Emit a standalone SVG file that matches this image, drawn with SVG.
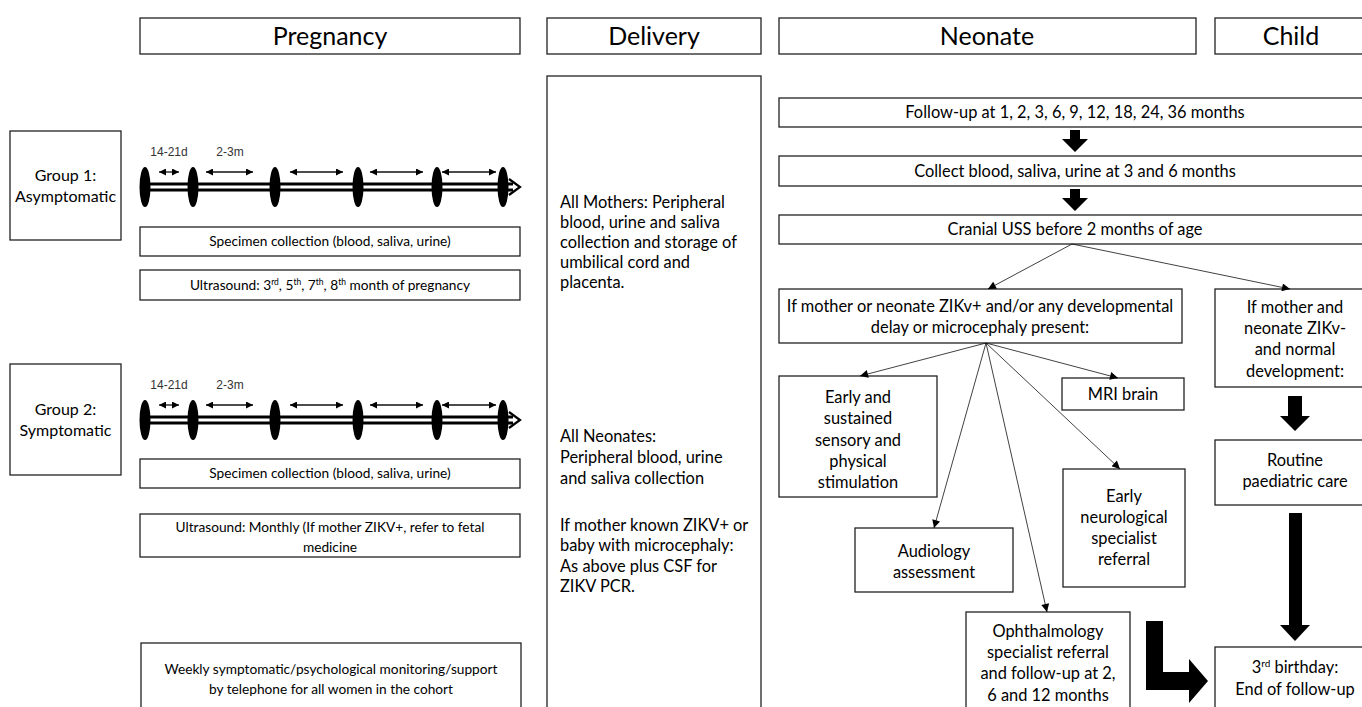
<svg xmlns="http://www.w3.org/2000/svg" width="1362" height="707" viewBox="0 0 1362 707">
<style>
.box{fill:#fff;stroke:#222;stroke-width:1.3}
.t{font-family:Lato,"Liberation Sans",sans-serif;fill:#000;font-size:16.4px;text-anchor:middle}
.h{font-size:25px}
.g{font-size:16px}
.s{font-size:13.7px}
.l{text-anchor:start;font-size:16.4px}
.lbl{font-family:"Liberation Sans",Arial,sans-serif;font-size:12px;fill:#333;text-anchor:middle}
.thin{stroke:#111;stroke-width:0.8;fill:none;marker-end:url(#ah)}
.dbl{stroke:#111;stroke-width:1.3;marker-start:url(#sh);marker-end:url(#sh2)}
.blk{fill:#000}
</style>
<defs>
<marker id="ah" viewBox="0 0 10 10" refX="10" refY="5" markerWidth="9" markerHeight="8" markerUnits="userSpaceOnUse" orient="auto"><path d="M0,0 L10,5 L0,10 z" fill="#000"/></marker>
<marker id="sh" viewBox="0 0 10 10" refX="0" refY="5" markerWidth="7" markerHeight="7" markerUnits="userSpaceOnUse" orient="auto"><path d="M10,0 L0,5 L10,10 z" fill="#000"/></marker>
<marker id="sh2" viewBox="0 0 10 10" refX="10" refY="5" markerWidth="7" markerHeight="7" markerUnits="userSpaceOnUse" orient="auto"><path d="M0,0 L10,5 L0,10 z" fill="#000"/></marker>
<g id="timeline">
<line x1="144" y1="0" x2="513" y2="0" stroke="#000" stroke-width="9"/>
<line x1="144" y1="0" x2="515" y2="0" stroke="#fff" stroke-width="3"/>
<path d="M509,-8 L520,0 L509,8" fill="none" stroke="#000" stroke-width="2.2"/>
<ellipse cx="145" cy="0" rx="5.5" ry="20" fill="#000"/>
<ellipse cx="193" cy="0" rx="5.5" ry="20" fill="#000"/>
<ellipse cx="275" cy="0" rx="5.5" ry="20" fill="#000"/>
<ellipse cx="358" cy="0" rx="5.5" ry="20" fill="#000"/>
<ellipse cx="437" cy="0" rx="5.5" ry="20" fill="#000"/>
<ellipse cx="503" cy="0" rx="5.5" ry="20" fill="#000"/>
<line class="dbl" x1="159" y1="-15" x2="179" y2="-15"/>
<line class="dbl" x1="206" y1="-15" x2="253" y2="-15"/>
<line class="dbl" x1="290" y1="-15" x2="343" y2="-15"/>
<line class="dbl" x1="370" y1="-15" x2="423" y2="-15"/>
<line class="dbl" x1="442" y1="-15" x2="496" y2="-15"/>
<text class="lbl" x="169" y="-31">14-21d</text>
<text class="lbl" x="230" y="-31">2-3m</text>
</g>
</defs>

<g id="headers">
<g id="h-pregnancy"><rect class="box" x="140" y="18" width="380" height="36"/><text class="t h" x="330" y="45">Pregnancy</text></g>
<g id="h-delivery"><rect class="box" x="547" y="18" width="214" height="36"/><text class="t h" x="654" y="45">Delivery</text></g>
<g id="h-neonate"><rect class="box" x="779" y="18" width="417" height="36"/><text class="t h" x="987" y="45">Neonate</text></g>
<g id="h-child"><rect class="box" x="1215" y="18" width="160" height="36"/><text class="t h" x="1291" y="45">Child</text></g>
</g>

<g id="group1"><rect class="box" x="10" y="131" width="111" height="109"/><text class="t g" x="65.5" y="181">Group 1:</text><text class="t g" x="65.5" y="202">Asymptomatic</text></g>
<g id="timeline1"><use href="#timeline" transform="translate(0,187)"/></g>
<g id="specimen1"><rect class="box" x="140" y="227" width="380" height="29"/><text class="t s" x="330" y="246">Specimen collection (blood, saliva, urine)</text></g>
<g id="ultrasound1"><rect class="box" x="140" y="270" width="380" height="30"/><text class="t s" x="330" y="290">Ultrasound: 3<tspan font-size="8.5" dy="-5">rd</tspan><tspan dy="5">, 5</tspan><tspan font-size="8.5" dy="-5">th</tspan><tspan dy="5">, 7</tspan><tspan font-size="8.5" dy="-5">th</tspan><tspan dy="5">, 8</tspan><tspan font-size="8.5" dy="-5">th</tspan><tspan dy="5"> month of pregnancy</tspan></text></g>

<g id="group2"><rect class="box" x="10" y="364" width="111" height="111"/><text class="t g" x="65.5" y="415">Group 2:</text><text class="t g" x="65.5" y="436">Symptomatic</text></g>
<g id="timeline2"><use href="#timeline" transform="translate(0,420)"/></g>
<g id="specimen2"><rect class="box" x="140" y="459" width="380" height="29"/><text class="t s" x="330" y="478">Specimen collection (blood, saliva, urine)</text></g>
<g id="ultrasound2"><rect class="box" x="140" y="514" width="380" height="43"/><text class="t s" x="330" y="532">Ultrasound: Monthly (If mother ZIKV+, refer to fetal</text><text class="t s" x="330" y="552">medicine</text></g>
<g id="weekly"><rect class="box" x="141" y="643" width="380" height="75"/><text class="t s" x="331" y="674">Weekly symptomatic/psychological monitoring/support</text><text class="t s" x="331" y="694">by telephone for all women in the cohort</text></g>

<g id="delivery"><rect class="box" x="547" y="76" width="214" height="640"/>
<text class="t l" x="560" y="208">All Mothers: Peripheral</text>
<text class="t l" x="560" y="228">blood, urine and saliva</text>
<text class="t l" x="560" y="248">collection and storage of</text>
<text class="t l" x="560" y="268">umbilical cord and</text>
<text class="t l" x="560" y="288">placenta.</text>
<text class="t l" x="560" y="442">All Neonates:</text>
<text class="t l" x="560" y="463">Peripheral blood, urine</text>
<text class="t l" x="560" y="484">and saliva collection</text>
<text class="t l" x="560" y="531">If mother known ZIKV+ or</text>
<text class="t l" x="560" y="551">baby with microcephaly:</text>
<text class="t l" x="560" y="572">As above plus CSF for</text>
<text class="t l" x="560" y="592">ZIKV PCR.</text>
</g>

<g id="followup"><rect class="box" x="779" y="98" width="600" height="29"/><text class="t" x="1075" y="118">Follow-up at 1, 2, 3, 6, 9, 12, 18, 24, 36 months</text></g>
<g id="collect"><rect class="box" x="779" y="156" width="600" height="30"/><text class="t" x="1075" y="177">Collect blood, saliva, urine at 3 and 6 months</text></g>
<g id="cranial"><rect class="box" x="779" y="215" width="600" height="29"/><text class="t" x="1075" y="235">Cranial USS before 2 months of age</text></g>
<g id="positive"><rect class="box" x="779" y="289" width="403" height="54"/><text class="t" x="980" y="312">If mother or neonate ZIKv+ and/or any developmental</text><text class="t" x="980" y="333">delay or microcephaly present:</text></g>
<g id="stimulation"><rect class="box" x="779" y="376" width="158" height="121"/><text class="t" x="858" y="403">Early and</text><text class="t" x="858" y="424">sustained</text><text class="t" x="858" y="446">sensory and</text><text class="t" x="858" y="467">physical</text><text class="t" x="858" y="488">stimulation</text></g>
<g id="mri"><rect class="box" x="1062" y="378" width="122" height="32"/><text class="t" x="1123" y="400">MRI brain</text></g>
<g id="neuro"><rect class="box" x="1063" y="469" width="122" height="118"/><text class="t" x="1124" y="502">Early</text><text class="t" x="1124" y="523">neurological</text><text class="t" x="1124" y="544">specialist</text><text class="t" x="1124" y="565">referral</text></g>
<g id="audiology"><rect class="box" x="855" y="528" width="158" height="64"/><text class="t" x="934" y="557">Audiology</text><text class="t" x="934" y="578">assessment</text></g>
<g id="ophthalmology"><rect class="box" x="966" y="612" width="164" height="106"/><text class="t" x="1048" y="637">Ophthalmology</text><text class="t" x="1048" y="658">specialist referral</text><text class="t" x="1048" y="679">and follow-up at 2,</text><text class="t" x="1048" y="701">6 and 12 months</text></g>

<g id="negative"><rect class="box" x="1215" y="289" width="160" height="98"/><text class="t" x="1295" y="313">If mother and</text><text class="t" x="1295" y="334">neonate ZIKv-</text><text class="t" x="1295" y="355">and normal</text><text class="t" x="1295" y="377">development:</text></g>
<g id="routine"><rect class="box" x="1215" y="440" width="160" height="65"/><text class="t" x="1295" y="466">Routine</text><text class="t" x="1295" y="487">paediatric care</text></g>
<g id="birthday"><rect class="box" x="1215" y="647" width="160" height="70"/><text class="t" x="1295" y="673">3<tspan font-size="10" dy="-6">rd</tspan><tspan dy="6"> birthday:</tspan></text><text class="t" x="1295" y="695">End of follow-up</text></g>

<g id="connectors">
<polygon class="blk" points="1070,130 1080,130 1080,139 1088,139 1075,152 1062,139 1070,139"/>
<polygon class="blk" points="1070,189 1080,189 1080,198 1088,198 1075,211 1062,198 1070,198"/>
<line class="thin" x1="1072" y1="244" x2="988" y2="289"/>
<line class="thin" x1="1072" y1="244" x2="1290" y2="289"/>
<line class="thin" x1="986" y1="343" x2="860" y2="376"/>
<line class="thin" x1="986" y1="343" x2="1118" y2="378"/>
<line class="thin" x1="986" y1="343" x2="1120" y2="469"/>
<line class="thin" x1="986" y1="343" x2="934" y2="528"/>
<line class="thin" x1="986" y1="343" x2="1047" y2="612"/>
<polygon class="blk" points="1288,396 1302,396 1302,416 1310,416 1295,431 1280,416 1288,416"/>
<polygon class="blk" points="1289,513 1302,513 1302,625 1310,625 1295,641 1280,625 1289,625"/>
<polygon class="blk" points="1146,621 1163,621 1163,672 1189,672 1189,659 1208,681 1189,703 1189,690 1146,690"/>
</g>
</svg>
